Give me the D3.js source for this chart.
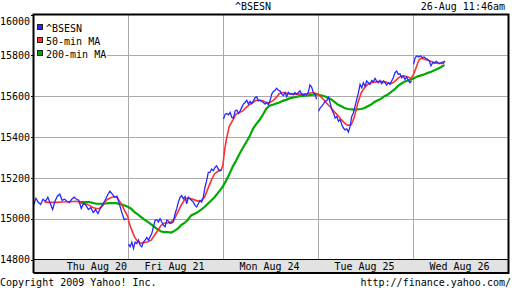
<!DOCTYPE html>
<html>
<head>
<meta charset="utf-8">
<script src="https://cdn.jsdelivr.net/npm/d3@7"></script>
<style>
  body { margin: 0; background: #fff; }
  svg text { font-family: "DejaVu Sans Mono", monospace; font-size: 10px; fill: #000; }
</style>
</head>
<body>
<div id="chart"></div>
<script>
const WIDTH = 512;
const HEIGHT = 288;

const TITLE = "^BSESN";
const STAMP = "26-Aug 11:46am";
const DAYS = ["Thu Aug 20", "Fri Aug 21", "Mon Aug 24", "Tue Aug 25", "Wed Aug 26"];
const Y_TICKS = [14800, 15000, 15200, 15400, 15600, 15800, 16000];
const LEGEND = ["^BSESN", "50-min MA", "200-min MA"];
// session 9:55 - 15:30, last quote on Wed at 11:46
const SESSION_MIN = 335;
const LAST_MIN = 111;

// ^BSESN quotes, one list per day, evenly spaced through the session
const BSESN_THU = [15065, 15100, 15080, 15070, 15095, 15085, 15105, 15075, 15045, 15085,
  15110, 15120, 15090, 15095, 15085, 15080, 15095, 15105, 15095, 15090,
  15050, 15075, 15065, 15045, 15055, 15030, 15045, 15025, 15050, 15070,
  15090, 15115, 15135, 15120, 15105, 15110, 15070, 15030, 14995, 15000];
const BSESN_FRI = [14875, 14862, 14885, 14854, 14885, 14878, 14895, 14870, 14862, 14885,
  14895, 14908, 14895, 14911, 14927, 14960, 14992, 14995, 14984, 15000,
  14984, 14968, 14960, 14992, 14989, 14976, 14979, 14984, 15024, 15049,
  15081, 15105, 15113, 15097, 15108, 15073, 15105, 15097, 15089, 15081,
  15065, 15057, 15073, 15089, 15081, 15105, 15154, 15186, 15227, 15227,
  15243, 15235, 15251, 15259, 15243, 15235, 15238];
const BSESN_MON = [15488, 15512, 15515, 15509, 15520, 15496, 15493, 15528, 15532, 15515,
  15528, 15545, 15561, 15569, 15580, 15561, 15574, 15564, 15577, 15593,
  15597, 15577, 15580, 15574, 15569, 15561, 15569, 15558, 15577, 15610,
  15623, 15629, 15639, 15629, 15626, 15610, 15602, 15618, 15597, 15618,
  15610, 15613, 15607, 15618, 15610, 15618, 15626, 15610, 15605, 15610,
  15610, 15618, 15655, 15645, 15618, 15610, 15585];
const BSESN_TUE = [15526, 15542, 15551, 15562, 15575, 15579, 15595, 15567, 15534, 15518,
  15493, 15501, 15477, 15485, 15460, 15444, 15435, 15440, 15424, 15452,
  15501, 15518, 15551, 15584, 15616, 15658, 15641, 15666, 15649, 15674,
  15666, 15658, 15677, 15671, 15687, 15674, 15666, 15677, 15661, 15674,
  15666, 15654, 15666, 15658, 15674, 15690, 15715, 15723, 15707, 15710,
  15690, 15699, 15682, 15694, 15677, 15666, 15674];
const BSESN_WED = [15756, 15789, 15798, 15792, 15798, 15789, 15792, 15786, 15781, 15773,
  15748, 15765, 15760, 15770, 15765, 15760, 15765, 15760, 15773];
const BSESN = [BSESN_THU, BSESN_FRI, BSESN_MON, BSESN_TUE, BSESN_WED];

// moving averages as [session day, value]; day n runs from n to n + 1
const MA_50 = [[0.116, 15081], [0.168, 15080], [0.239, 15080], [0.309, 15082], [0.379, 15083],
  [0.449, 15085], [0.484, 15080], [0.519, 15073], [0.554, 15073], [0.589, 15065],
  [0.625, 15055], [0.660, 15050], [0.695, 15050], [0.730, 15065], [0.765, 15090],
  [0.800, 15100], [0.835, 15106], [0.870, 15106], [0.888, 15098], [0.923, 15073],
  [0.958, 15041], [0.993, 15010], [1.000, 14990], [1.028, 14951], [1.063, 14911],
  [1.098, 14887], [1.133, 14879], [1.168, 14883], [1.203, 14887], [1.239, 14895],
  [1.274, 14919], [1.309, 14943], [1.344, 14968], [1.379, 14979], [1.414, 14979],
  [1.449, 14984], [1.484, 15000], [1.519, 15032], [1.554, 15065], [1.589, 15092],
  [1.625, 15102], [1.660, 15097], [1.695, 15092], [1.730, 15086], [1.765, 15089],
  [1.800, 15105], [1.835, 15146], [1.870, 15186], [1.905, 15219], [1.940, 15232],
  [1.975, 15238], [1.993, 15260], [2.011, 15333], [2.028, 15382], [2.046, 15423],
  [2.063, 15455], [2.098, 15483], [2.133, 15512], [2.168, 15520], [2.203, 15528],
  [2.239, 15545], [2.274, 15558], [2.309, 15569], [2.344, 15580], [2.379, 15580],
  [2.414, 15577], [2.449, 15569], [2.484, 15569], [2.519, 15577], [2.554, 15593],
  [2.589, 15613], [2.625, 15618], [2.660, 15615], [2.730, 15610], [2.800, 15610],
  [2.870, 15610], [2.940, 15618], [3.000, 15610], [3.028, 15595], [3.063, 15579],
  [3.098, 15559], [3.133, 15542], [3.168, 15523], [3.203, 15506], [3.239, 15485],
  [3.274, 15468], [3.309, 15457], [3.344, 15460], [3.361, 15477], [3.379, 15501],
  [3.397, 15534], [3.414, 15567], [3.432, 15592], [3.449, 15616], [3.484, 15641],
  [3.519, 15658], [3.554, 15666], [3.625, 15671], [3.695, 15671], [3.730, 15666],
  [3.765, 15661], [3.800, 15671], [3.835, 15687], [3.870, 15699], [3.905, 15699],
  [3.940, 15694], [3.975, 15687], [4.000, 15707], [4.028, 15740], [4.046, 15765],
  [4.063, 15781], [4.081, 15786], [4.116, 15781], [4.151, 15776], [4.186, 15770],
  [4.221, 15765], [4.256, 15760], [4.291, 15760], [4.319, 15770]];
const MA_200 = [[0.484, 15081], [0.589, 15081], [0.660, 15073], [0.730, 15073], [0.800, 15076],
  [0.870, 15076], [0.940, 15068], [0.993, 15058], [1.028, 15049], [1.063, 15032],
  [1.098, 15021], [1.133, 15008], [1.168, 14995], [1.203, 14984], [1.239, 14972],
  [1.274, 14960], [1.309, 14947], [1.344, 14937], [1.379, 14934], [1.414, 14934],
  [1.449, 14932], [1.484, 14940], [1.519, 14951], [1.554, 14968], [1.589, 14979],
  [1.625, 14995], [1.660, 15016], [1.695, 15024], [1.730, 15032], [1.765, 15044],
  [1.800, 15057], [1.835, 15073], [1.870, 15089], [1.905, 15105], [1.940, 15125],
  [1.975, 15146], [1.993, 15158], [2.028, 15187], [2.063, 15220], [2.098, 15255],
  [2.133, 15285], [2.168, 15317], [2.203, 15346], [2.239, 15374], [2.274, 15402],
  [2.309, 15439], [2.344, 15463], [2.379, 15483], [2.414, 15509], [2.449, 15537],
  [2.484, 15553], [2.519, 15558], [2.554, 15564], [2.589, 15569], [2.625, 15577],
  [2.660, 15582], [2.695, 15589], [2.730, 15593], [2.800, 15600], [2.870, 15603],
  [2.940, 15607], [2.993, 15608], [3.063, 15600], [3.098, 15592], [3.133, 15584],
  [3.168, 15572], [3.203, 15559], [3.239, 15551], [3.274, 15542], [3.309, 15537],
  [3.379, 15534], [3.449, 15537], [3.484, 15542], [3.519, 15551], [3.554, 15559],
  [3.589, 15572], [3.625, 15580], [3.660, 15588], [3.695, 15600], [3.730, 15608],
  [3.765, 15621], [3.800, 15633], [3.835, 15649], [3.870, 15661], [3.905, 15671],
  [3.940, 15677], [3.975, 15682], [4.000, 15687], [4.046, 15697], [4.081, 15702],
  [4.116, 15707], [4.151, 15714], [4.186, 15720], [4.221, 15727], [4.256, 15734],
  [4.291, 15743], [4.326, 15753]];

const COLORS = ["#2828ff", "#ff3030", "#00aa00"];

const svg = d3.select('#chart').append('svg')
  .attr('width', WIDTH).attr('height', HEIGHT)
  .style('display', 'block');

svg.append('rect').attr('width', WIDTH).attr('height', HEIGHT).attr('fill', '#fff');

const x = d3.scaleLinear().domain([0, DAYS.length]).range([33.5, 508.5]);
const y = d3.scaleLinear().domain([14800, 16000]).range([259.5, 14.5]);
const dayBand = d3.scaleBand().domain(DAYS).range([33.5, 508.5]);

// grid
svg.append('g')
  .selectAll('line.h')
  .data(Y_TICKS.slice(1, -1))
  .join('line')
  .attr('x1', x(0)).attr('x2', x(DAYS.length))
  .attr('y1', d => Math.round(y(d)) + 0.5).attr('y2', d => Math.round(y(d)) + 0.5)
  .attr('stroke', '#aaa').attr('shape-rendering', 'crispEdges');
svg.append('g')
  .selectAll('line.v')
  .data(d3.range(1, DAYS.length))
  .join('line')
  .attr('x1', d => x(d)).attr('x2', d => x(d))
  .attr('y1', y(16000)).attr('y2', y(14800))
  .attr('stroke', '#aaa').attr('shape-rendering', 'crispEdges');

// y axis, labels flush with the left edge
const yAxis = svg.append('g')
  .attr('transform', `translate(${x(0)},0)`)
  .call(d3.axisLeft(y).tickValues(Y_TICKS).tickSize(3).tickFormat(d3.format('d')));
yAxis.select('.domain').remove();
yAxis.attr('font-family', null).attr('font-size', null);
yAxis.selectAll('.tick line').attr('stroke', '#000').attr('shape-rendering', 'crispEdges');
yAxis.selectAll('.tick text').attr('text-anchor', 'start').attr('x', -x(0));
yAxis.selectAll('.tick').filter(d => d === 16000).select('text').attr('dy', '0.95em');

// legend
svg.append('rect').attr('x', 35).attr('y', 17).attr('width', 72).attr('height', 42).attr('fill', '#fff');
const legend = svg.append('g');
LEGEND.forEach((name, i) => {
  legend.append('rect')
    .attr('x', 37.5).attr('y', 24.5 + i * 13).attr('width', 5).attr('height', 5)
    .attr('fill', COLORS[i]).attr('stroke', '#222').attr('shape-rendering', 'crispEdges');
  legend.append('text').attr('x', 46).attr('y', 32 + i * 13).text(name);
});

// series
const line = d3.line().x(d => x(d[0])).y(d => y(d[1]));
const plot = svg.append('g');
plot.append('path').datum(MA_200).attr('d', line)
  .attr('fill', 'none').attr('stroke', COLORS[2]).attr('stroke-width', 2.2);
plot.append('path').datum(MA_50).attr('d', line)
  .attr('fill', 'none').attr('stroke', COLORS[1]).attr('stroke-width', 1.6);
BSESN.forEach((vals, day) => {
  const span = day === DAYS.length - 1 ? LAST_MIN / SESSION_MIN : 0.98;
  const pts = vals.map((v, i) => [day + span * i / (vals.length - 1), v]);
  plot.append('path').datum(pts).attr('d', line)
    .attr('fill', 'none').attr('stroke', COLORS[0]).attr('stroke-width', 1.3);
});

// frame and day band
svg.append('rect')
  .attr('x', 33.5).attr('y', 259.5).attr('width', 475).attr('height', 13)
  .attr('fill', '#e2e2e2').attr('stroke', '#000').attr('shape-rendering', 'crispEdges');
svg.append('path')
  .attr('d', `M${x(0)},273V${y(16000)}H${x(DAYS.length)}V273H${x(0)}`)
  .attr('fill', 'none').attr('stroke', '#000').attr('stroke-width', 2);

const xAxis = svg.append('g')
  .attr('transform', 'translate(0,260)')
  .call(d3.axisBottom(dayBand).tickSize(0).tickPadding(3));
xAxis.select('.domain').remove();
xAxis.attr('font-family', null).attr('font-size', null);
xAxis.selectAll('.tick text').attr('dy', '0.71em').attr('dx', -1.5);
xAxis.selectAll('.tick').filter(d => d === DAYS[0]).select('text')
  .attr('text-anchor', 'end').attr('dx', dayBand.bandwidth() / 2 - 1.5);

// titles
svg.append('text').attr('x', 253).attr('y', 10).attr('text-anchor', 'middle').text(TITLE);
svg.append('text').attr('x', 505).attr('y', 10).attr('text-anchor', 'end').text(STAMP);
svg.append('text').attr('x', 0).attr('y', 286).text("Copyright 2009 Yahoo! Inc.");
svg.append('text').attr('x', 511).attr('y', 286).attr('text-anchor', 'end').text("http://finance.yahoo.com/");
</script>
</body>
</html>
